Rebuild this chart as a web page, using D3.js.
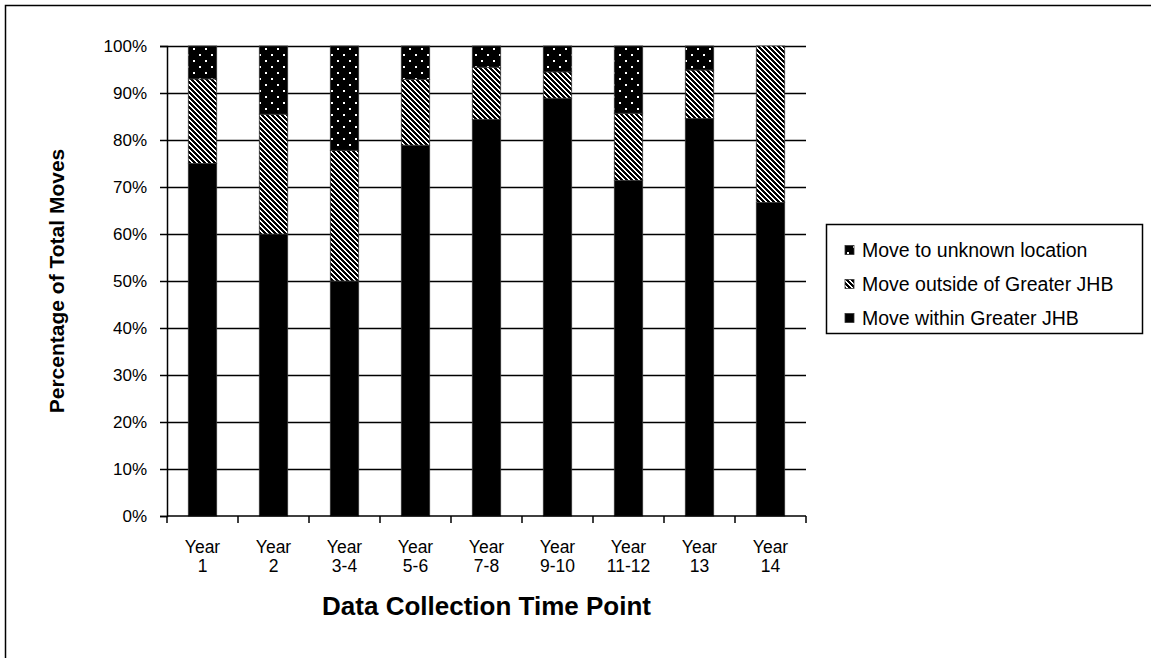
<!DOCTYPE html>
<html>
<head>
<meta charset="utf-8">
<script src="https://cdn.jsdelivr.net/npm/d3@7"></script>
<style>
  html, body { margin: 0; padding: 0; background: #fff; }
  svg { display: block; }
  text { font-family: "Liberation Sans", Arial, sans-serif; fill: #000; }
</style>
</head>
<body>
<svg id="chart" width="1151" height="658"></svg>
<script>
// Share of moves by destination at each data collection time point (percent)
const categories = ["Year 1", "Year 2", "Year 3-4", "Year 5-6", "Year 7-8", "Year 9-10", "Year 11-12", "Year 13", "Year 14"];
const withinJHB  = [75, 60, 50, 78.9, 84.4, 88.9, 71.4, 84.6, 66.7];
const outsideJHB = [18, 25.5, 27.8, 14, 11.1, 5.6, 14.3, 10.3, 33.3];
const unknownLoc = [7, 14.5, 22.2, 7.1, 4.5, 5.5, 14.3, 5.1, 0];
const seriesNames = ["Move within Greater JHB", "Move outside of Greater JHB", "Move to unknown location"];
const yTicks = [0, 10, 20, 30, 40, 50, 60, 70, 80, 90, 100];

const rows = categories.map((c, i) => ({
  cat: c,
  within: withinJHB[i],
  outside: outsideJHB[i],
  unknown: unknownLoc[i]
}));
const keys = ["within", "outside", "unknown"];

const svg = d3.select("#chart");

// Outer chart frame
svg.append("rect")
  .attr("x", 5.5).attr("y", 5.5)
  .attr("width", 1160).attr("height", 670)
  .attr("fill", "none").attr("stroke", "#000").attr("stroke-width", 1.5);

// Fill patterns
const defs = svg.append("defs");

// wide downward diagonal hatch (5px tile, 3px black band shifting right each row)
const hatchSize = 5;
const hatch = defs.append("pattern")
  .attr("id", "hatch").attr("patternUnits", "userSpaceOnUse")
  .attr("width", hatchSize).attr("height", hatchSize);
hatch.append("rect").attr("width", hatchSize).attr("height", hatchSize).attr("fill", "#fff");
d3.range(hatchSize).forEach(r => {
  d3.range(3).forEach(k => {
    hatch.append("rect")
      .attr("x", (r + k) % hatchSize).attr("y", r)
      .attr("width", 1).attr("height", 1)
      .attr("fill", "#000").attr("shape-rendering", "crispEdges");
  });
});

// black with white dots
const dots = defs.append("pattern")
  .attr("id", "dots").attr("patternUnits", "userSpaceOnUse")
  .attr("width", 12).attr("height", 12);
dots.append("rect").attr("width", 12).attr("height", 12).attr("fill", "#000");
[[2, 2], [8, 8]].forEach(([px, py]) => {
  dots.append("rect").attr("x", px).attr("y", py).attr("width", 2).attr("height", 2)
    .attr("fill", "#fff").attr("shape-rendering", "crispEdges");
});

const fills = { within: "#000", outside: "url(#hatch)", unknown: "url(#dots)" };

// Plot area
const plotLeft = 167, plotTop = 46, plotW = 639, plotH = 470;
const g = svg.append("g").attr("transform", `translate(${plotLeft},${plotTop})`);

const x = d3.scaleBand().domain(categories).range([0, plotW]).paddingInner(0.6).paddingOuter(0.3);
const y = d3.scaleLinear().domain([0, 100]).range([plotH, 0]);

// Horizontal gridlines
g.append("g")
  .selectAll("line")
  .data(yTicks.filter(t => t > 0))
  .join("line")
  .attr("x1", 0).attr("x2", plotW)
  .attr("y1", d => Math.round(y(d)) + 0.5).attr("y2", d => Math.round(y(d)) + 0.5)
  .attr("stroke", "#000").attr("stroke-width", 1.5);

// Stacked bars
const stacked = d3.stack().keys(keys)(rows);
g.append("g")
  .selectAll("g")
  .data(stacked)
  .join("g")
  .attr("fill", d => fills[d.key])
  .selectAll("rect")
  .data(d => d.filter(p => p[1] - p[0] > 0))
  .join("rect")
  .attr("x", d => x(d.data.cat))
  .attr("y", d => y(d[1]))
  .attr("width", x.bandwidth())
  .attr("height", d => y(d[0]) - y(d[1]))
  .attr("stroke", "#333")
  .attr("stroke-width", 0.8);

// Y axis
const yAxis = g.append("g")
  .call(d3.axisLeft(y).tickValues(yTicks).tickFormat(d => d + "%").tickSize(7).tickPadding(13));
yAxis.select(".domain").attr("stroke", "#000").attr("stroke-width", 1.5);
yAxis.selectAll(".tick line").attr("stroke", "#000").attr("stroke-width", 1.5);
yAxis.selectAll("text").style("font-size", "17px").attr("fill", "#000")
  .style("font-family", "'Liberation Sans', Arial, sans-serif");

// X axis with ticks at category boundaries
const xAxisG = g.append("g").attr("transform", `translate(0,${plotH})`);
xAxisG.append("line").attr("x1", 0).attr("x2", plotW).attr("y1", 0).attr("y2", 0)
  .attr("stroke", "#000").attr("stroke-width", 1.5);
const step = plotW / categories.length;
xAxisG.selectAll("line.tk")
  .data(d3.range(categories.length + 1))
  .join("line").attr("class", "tk")
  .attr("x1", i => i * step).attr("x2", i => i * step)
  .attr("y1", 0).attr("y2", 7)
  .attr("stroke", "#000").attr("stroke-width", 1.5);
const lbl = xAxisG.selectAll("text.cat")
  .data(categories)
  .join("text").attr("class", "cat")
  .attr("text-anchor", "middle")
  .attr("transform", d => `translate(${x(d) + x.bandwidth() / 2},0)`)
  .style("font-size", "17.5px");
lbl.append("tspan").attr("x", 0).attr("y", 37).text(d => d.split(" ")[0]);
lbl.append("tspan").attr("x", 0).attr("y", 56).text(d => d.split(" ")[1]);

// Axis titles
svg.append("text")
  .attr("x", plotLeft + plotW / 2).attr("y", 615)
  .attr("text-anchor", "middle")
  .style("font-size", "26px").style("font-weight", "bold")
  .text("Data Collection Time Point");

svg.append("text")
  .attr("transform", `translate(64,${plotTop + plotH / 2}) rotate(-90)`)
  .attr("text-anchor", "middle")
  .style("font-size", "21px").style("font-weight", "bold")
  .text("Percentage of Total Moves");

// Legend
const legend = svg.append("g");
legend.append("rect")
  .attr("x", 826.5).attr("y", 224.5).attr("width", 316).attr("height", 109)
  .attr("fill", "#fff").attr("stroke", "#000").attr("stroke-width", 1.5);
const legendKeys = ["unknown", "outside", "within"];
const legendY = d3.scalePoint().domain(legendKeys).range([250, 318]);
const li = legend.selectAll("g.item")
  .data(legendKeys)
  .join("g").attr("class", "item")
  .attr("transform", k => `translate(845,${legendY(k)})`);
li.append("rect")
  .attr("x", 0).attr("y", -4.5).attr("width", 9).attr("height", 9)
  .attr("fill", k => fills[k]).attr("stroke", "#333").attr("stroke-width", 0.8);
li.append("text")
  .attr("x", 17).attr("y", 0).attr("dy", "0.35em")
  .style("font-size", "19.5px")
  .text(k => seriesNames[keys.indexOf(k)]);
</script>
</body>
</html>
